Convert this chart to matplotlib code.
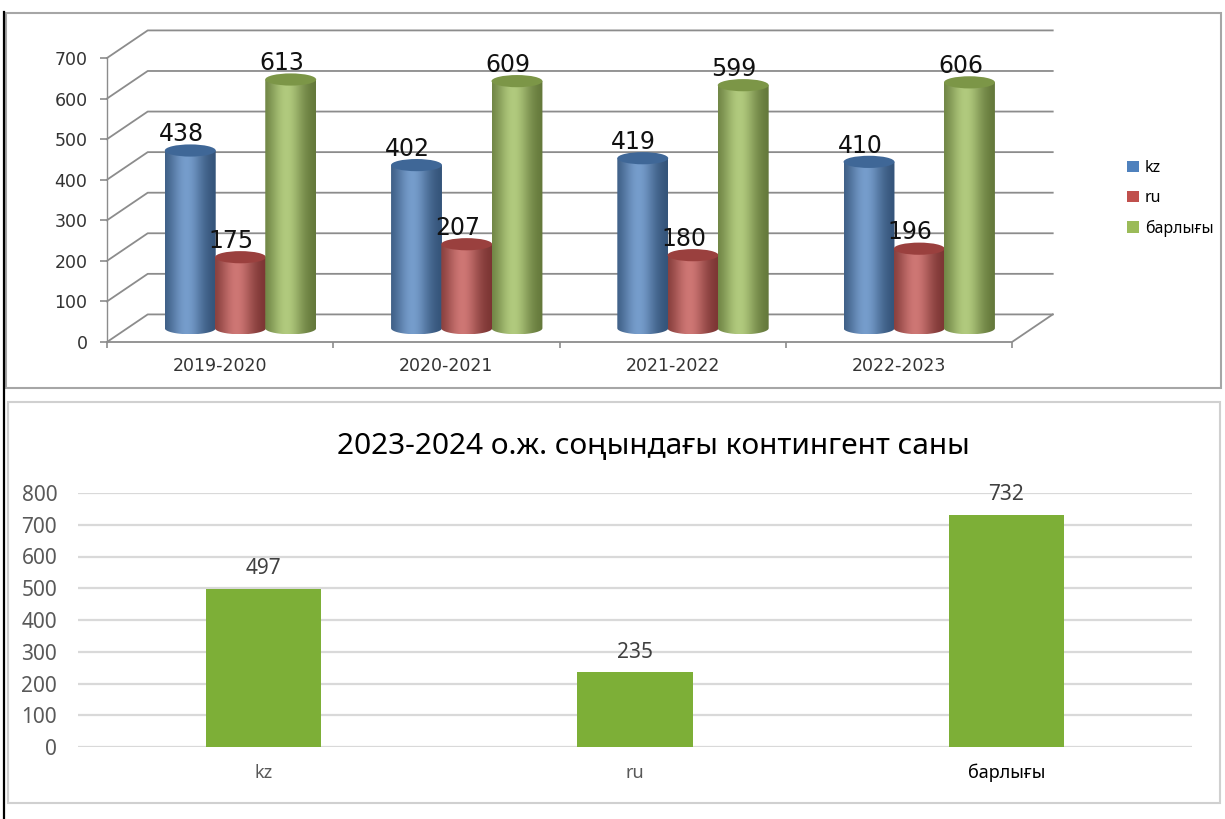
import matplotlib
matplotlib.use('Agg')
import matplotlib.pyplot as plt
import matplotlib.colors as mcolors
import numpy as np
from matplotlib.patches import Polygon, Ellipse, Rectangle, Patch
from matplotlib.lines import Line2D

# top chart: contingent by language over the years
years = ['2019-2020', '2020-2021', '2021-2022', '2022-2023']
kz = [438, 402, 419, 410]
ru = [175, 207, 180, 196]
total = [613, 609, 599, 606]
series_names = ['kz', 'ru', 'барлығы']
series_colors = ['#4F81BD', '#C0504D', '#9BBB59']

# bottom chart: end of 2023-2024 school year
groups_2024 = ['kz', 'ru', 'барлығы']
counts_2024 = [497, 235, 732]
title_2024 = '2023-2024 о.ж. соңындағы контингент саны'

W, H = 1225, 819
fig = plt.figure(figsize=(W / 100, H / 100), dpi=100)
SANS = ['Noto Sans', 'DejaVu Sans']


def px_axes(l, t, r, b):
    return fig.add_axes([l / W, 1 - b / H, (r - l) / W, (b - t) / H])


def px_rect(l, t, r, b, color, lw):
    fig.add_artist(Rectangle((l / W, 1 - b / H), (r - l) / W, (b - t) / H,
                             transform=fig.transFigure, fill=False,
                             edgecolor=color, linewidth=lw))


def cyl_shade(base, n=80):
    t = np.linspace(0, 1, n)
    base = np.array(mcolors.to_rgb(base))
    light = base + (1 - base) * 0.22
    dark = base * 0.62
    p = np.exp(-((t - 0.42) / 0.34) ** 2)
    rgb = dark[None, :] * (1 - p[:, None]) + light[None, :] * p[:, None]
    return rgb[None, :, :]


# panel frames
px_rect(6, 13, 1221, 388, '#A6A6A6', 1.5)
px_rect(8, 402, 1220, 803, '#D0D0D0', 1.5)
fig.add_artist(Line2D([4 / W, 4 / W], [0, 1 - 12 / H], transform=fig.transFigure,
                      color='black', lw=1.6))

# ---------------- top 3D-style chart ----------------
ax = px_axes(107, 58, 1012, 342)
n_cat = len(years)
DX, DY = 0.18, 68          # depth of the back wall (x units, value units)
E = 15                     # half height of cylinder ellipse (value units)
grid = '#8C8C8C'

for v in range(0, 701, 100):
    ax.plot([0, DX, n_cat + DX], [v, v + DY, v + DY], color=grid, lw=1.3,
            clip_on=False, zorder=1)
ax.plot([0, n_cat, n_cat + DX], [0, 0, DY], color=grid, lw=1.3, clip_on=False, zorder=1)

values = [kz, ru, total]
w, step = 0.225, 0.222
for i in range(n_cat):
    for k in range(3):
        v = values[k][i]
        cx = i + 0.5 + (k - 1) * step + DX / 2
        x0, x1 = cx - w / 2, cx + w / 2
        yb, yt = DY / 2, v + DY / 2
        th = np.linspace(0, np.pi, 40)
        arc = np.c_[cx + w / 2 * np.cos(th), yb - E * np.sin(th)]
        pts = np.vstack([[x0, yt], [x1, yt], arc])
        z = 3 + i + k * 0.1
        im = ax.imshow(cyl_shade(series_colors[k]), extent=(x0, x1, yb - E, yt),
                       aspect='auto', interpolation='bilinear', zorder=z)
        im.set_clip_path(Polygon(pts, closed=True, transform=ax.transData))
        top = np.array(mcolors.to_rgb(series_colors[k])) * 0.8
        ax.add_patch(Ellipse((cx, yt), w, 2 * E, facecolor=top, edgecolor='none',
                             zorder=z + 0.01))
        ax.text(cx - 0.04, v + DY / 2 + 40, str(v), fontsize=17, ha='center',
                va='center', color='#111111', zorder=20)

ax.set_xlim(0, n_cat)
ax.set_ylim(0, 700)
for s in ax.spines.values():
    s.set_visible(False)
ax.spines['left'].set_visible(True)
ax.spines['left'].set_color(grid)
ax.spines['left'].set_linewidth(1.0)
ax.set_yticks(range(0, 701, 100))
ax.tick_params(axis='y', length=5, width=1.2, color=grid, labelsize=12.5,
               labelcolor='#333333', pad=9)
ax.set_xticks(np.arange(n_cat) + 0.5)
ax.set_xticklabels(years)
ax.set_xticks(np.arange(n_cat + 1), minor=True)
ax.tick_params(axis='x', which='major', length=0, labelsize=12.5,
               labelcolor='#333333', pad=11)
ax.tick_params(axis='x', which='minor', length=4, width=1.2, color=grid)

handles = [Patch(facecolor=c, edgecolor='none') for c in series_colors]
fig.legend(handles, series_names, loc='upper left',
           bbox_to_anchor=(1113 / W, 1 - 146 / H), frameon=False,
           prop={'family': SANS, 'size': 11.5}, handlelength=0.7,
           handleheight=0.7, handletextpad=0.4, labelspacing=0.85)

# ---------------- bottom flat chart ----------------
ax2 = px_axes(78, 493, 1192, 747)
bars = ax2.bar(range(len(groups_2024)), counts_2024, width=0.31,
               color='#7DAF37', zorder=3)
ax2.set_xlim(-0.5, len(groups_2024) - 0.5)
ax2.set_ylim(0, 800)
ax2.set_yticks(range(0, 801, 100))
ax2.yaxis.grid(True, color='#D9D9D9', lw=1.6)
ax2.set_axisbelow(True)
for s in ax2.spines.values():
    s.set_visible(False)
ax2.tick_params(axis='y', length=0, labelsize=15, labelcolor='#595959', pad=15)
ax2.set_xticks(range(len(groups_2024)))
ax2.set_xticklabels(groups_2024)
ax2.tick_params(axis='x', length=0, labelsize=13, labelcolor='#595959', pad=12)
for lab in ax2.get_yticklabels() + ax2.get_xticklabels():
    lab.set_family(SANS)
ax2.get_xticklabels()[-1].set_color('black')
for t in ax2.bar_label(bars, padding=7, fontsize=15, color='#404040'):
    t.set_family(SANS)

fig.text(653 / W, 1 - 447 / H, title_2024, fontsize=21.5, ha='center', va='center',
         family=SANS, color='black')

fig.savefig('out.png', dpi=100)
